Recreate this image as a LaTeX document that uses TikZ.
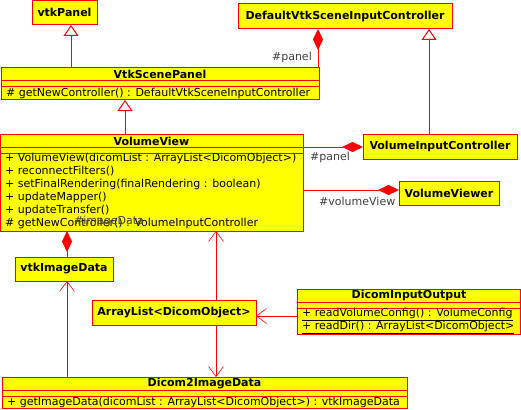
\documentclass[tikz,border=0pt]{standalone}
\usepackage{fontspec}
\setmainfont{DejaVu Sans}
\usetikzlibrary{arrows.meta}
\definecolor{umlred}{RGB}{255,0,0}
\definecolor{umlyellow}{RGB}{255,255,0}
\definecolor{rolegray}{RGB}{64,64,64}
\tikzset{
  cls/.style={draw=umlred, fill=umlyellow, line width=1pt, inner sep=0pt, outer sep=0pt, anchor=north west},
  ttl/.style={font=\fontsize{11}{13}\selectfont\bfseries, inner sep=0pt, anchor=center},
  mth/.style={font=\fontsize{11}{13}\selectfont, inner sep=0pt, anchor=west},
  role/.style={font=\fontsize{11}{13}\selectfont, text=rolegray, inner sep=0pt},
  sep/.style={draw=umlred, line width=1pt},
  conn/.style={draw=umlred, line width=1pt},
  inh/.style={conn, -{Triangle[open, length=11pt, width=15pt, fill=white, line width=1pt]}},
  comp/.style={conn, {Diamond[length=21pt, width=10pt, fill=umlred]}-},
  nav/.style={conn, -{Straight Barb[length=10pt, width=15pt, line width=0.6pt]}},
}
\begin{document}
\begin{tikzpicture}[x=1pt,y=-1pt]
\useasboundingbox[fill=white] (0,0) rectangle (521,409);

% vtkPanel
\node[cls, minimum width=65pt, minimum height=24.5pt] (vtkpanel) at (32,0.5) {};
\node[ttl] at (vtkpanel.center) {vtkPanel};

% VtkScenePanel
\node[cls, minimum width=318pt, minimum height=32pt] (scenepanel) at (1,68) {};
\draw[sep] (1,81) -- (319,81) (1,87) -- (319,87);
\node[ttl] at (160,74.5) {VtkScenePanel};
\node[mth] at (6,93.5) {\# getNewController() : DefaultVtkSceneInputController};

% DefaultVtkSceneInputController
\node[cls, minimum width=214pt, minimum height=25pt] (defctrl) at (238,4) {};
\node[ttl] at (defctrl.center) {DefaultVtkSceneInputController};

% VolumeView
\node[cls, minimum width=302.5pt, minimum height=97pt] (volview) at (0.5,134) {};
\draw[sep] (0.5,147.5) -- (303,147.5) (0.5,153.5) -- (303,153.5);
\node[ttl] at (151.5,141) {VolumeView};
\node[mth] at (5,158.5) {+ VolumeView(dicomList : ArrayList<DicomObject>)};
\node[mth] at (5,171.5) {+ reconnectFilters()};
\node[mth] at (5,184.5) {+ setFinalRendering(finalRendering : boolean)};
\node[mth] at (5,197.5) {+ updateMapper()};
\node[mth] at (5,210.5) {+ updateTransfer()};
\node[mth] at (5,223.5) {\# getNewController() : VolumeInputController};

% VolumeInputController
\node[cls, minimum width=154pt, minimum height=25pt] (volctrl) at (363,134) {};
\node[ttl] at (volctrl.center) {VolumeInputController};

% VolumeViewer
\node[cls, minimum width=100pt, minimum height=24pt] (volviewer) at (399,181) {};
\node[ttl] at (volviewer.center) {VolumeViewer};

% vtkImageData
\node[cls, minimum width=98pt, minimum height=24pt] (imgdata) at (15,257) {};
\node[ttl] at (imgdata.center) {vtkImageData};

% ArrayList<DicomObject>
\node[cls, minimum width=164pt, minimum height=25pt] (alist) at (92,300) {};
\node[ttl] at (alist.center) {ArrayList<DicomObject>};

% DicomInputOutput
\node[cls, minimum width=223.5pt, minimum height=45pt] (dio) at (297,289) {};
\draw[sep] (297,302) -- (520.5,302) (297,308) -- (520.5,308);
\node[ttl] at (409,295.5) {DicomInputOutput};
\node[mth] at (302,314.5) {\underline{+ readVolumeConfig() : VolumeConfig}};
\node[mth] at (302,327) {\underline{+ readDir() : ArrayList<DicomObject>}};

% Dicom2ImageData
\node[cls, minimum width=405pt, minimum height=31.5pt] (d2i) at (2,377) {};
\draw[sep] (2,390.5) -- (407,390.5) (2,396.5) -- (407,396.5);
\node[ttl] at (204.5,383.5) {Dicom2ImageData};
\node[mth] at (7,402.5) {+ getImageData(dicomList : ArrayList<DicomObject>) : vtkImageData};

% Generalizations
\draw[inh] (scenepanel.north -| 71,0) -- (vtkpanel.south -| 71,0);
\draw[inh] (volview.north -| 125,0) -- (scenepanel.south -| 125,0);
\draw[inh] (volctrl.north -| 429,0) -- (defctrl.south -| 429,0);

% Compositions
\draw[comp] (defctrl.south -| 318,0) -- (scenepanel.north -| 318,0);
\node[role, anchor=east] at (312,57) {\#panel};
\draw[comp] (volctrl.west |- 0,147) -- (volview.east |- 0,147);
\node[role, anchor=west] at (310,157) {\#panel};
\draw[comp] (volviewer.west |- 0,190) -- (volview.east |- 0,190);
\node[role, anchor=west] at (319,201) {\#volumeView};
\draw[comp] (volview.south -| 67,0) -- (imgdata.north -| 67,0);
\node[role, anchor=west] at (74,221.5) {\#imageData};

% Navigable associations
\draw[nav] (d2i.north -| 67,0) -- (imgdata.south -| 67,0);
\draw[nav] (alist.north -| 216,0) -- (volview.south -| 216,0);
\draw[nav] (alist.south -| 216,0) -- (d2i.north -| 216,0);
\draw[nav] (dio.west |- 0,316) -- (alist.east |- 0,316);
\end{tikzpicture}
\end{document}
